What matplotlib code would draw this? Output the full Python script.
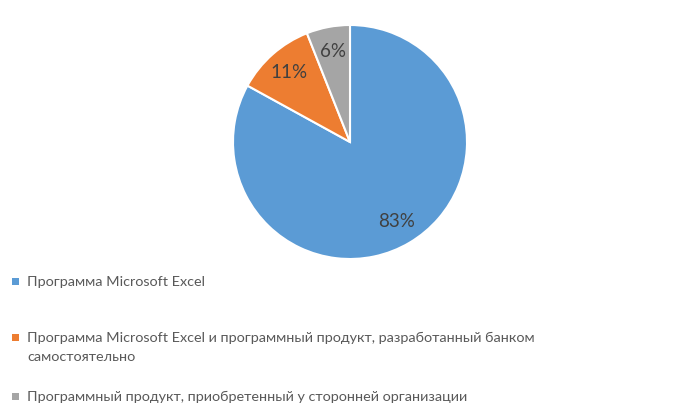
import matplotlib.pyplot as plt
from matplotlib.patches import Rectangle

# данные
labels = ["Программа Microsoft Excel",
          "Программа Microsoft Excel и программный продукт, разработанный банком\nсамостоятельно",
          "Программный продукт, приобретенный у сторонней организации"]
shares = [83, 11, 6]
colors = ["#5B9BD5", "#ED7D31", "#A5A5A5"]

plt.rcParams["font.family"] = ["Lato", "DejaVu Sans"]

fig = plt.figure(figsize=(6.75, 4.16), dpi=100)
ax = fig.add_axes([233/675, 157/416, 234/675, 234/416])

wedges, texts, autotexts = ax.pie(
    shares, colors=colors, startangle=90, counterclock=False,
    autopct="%d%%", pctdistance=0.79,
    wedgeprops=dict(edgecolor="white", linewidth=1.5),
    textprops=dict(color="#404040", fontsize=13.5))
ax.set_xlim(-1, 1)
ax.set_ylim(-1, 1)

# легенда вручную (y - центр первой строки, в пикселях сверху)
ys = [281, 337, 396]
for w, lab, y in zip(wedges, labels, ys):
    fig.patches.append(Rectangle((12/675, 1 - (y + 3.5)/416), 7/675, 7/416,
                                 transform=fig.transFigure,
                                 facecolor=w.get_facecolor(), edgecolor="none"))
    fig.text(27/675, 1 - (y - 5)/416, lab, fontsize=10.4, color="#595959",
             va="top", linespacing=1.7)

fig.savefig("out.png")
